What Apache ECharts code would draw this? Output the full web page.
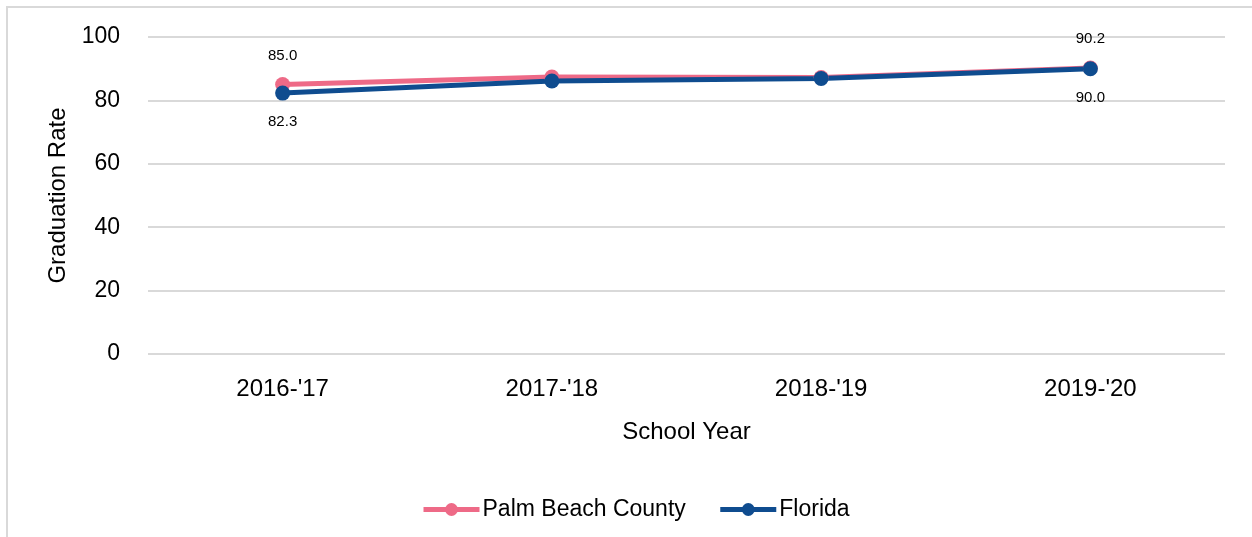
<!DOCTYPE html>
<html>
<head>
<meta charset="utf-8">
<script src="https://cdn.jsdelivr.net/npm/echarts@6/dist/echarts.min.js"></script>
<style>
  html, body { margin: 0; padding: 0; background: #fff; }
  #chart { width: 1252px; height: 537px; }
</style>
</head>
<body>
<div id="chart"></div>
<script>
var years = ["2016-'17", "2017-'18", "2018-'19", "2019-'20"];
var palmBeach = [85.0, 87.4, 87.2, 90.2];
var florida = [82.3, 86.1, 86.9, 90.0];
var yTicks = [0, 20, 40, 60, 80, 100];

var font = 'Liberation Sans, Arial, sans-serif';

// only the first and last points carry a label
function edgeLabel(params) {
	var last = years.length - 1;
	return (params.dataIndex === 0 || params.dataIndex === last) ? params.value.toFixed(1) : '';
}

var chart = echarts.init(document.getElementById('chart'));

chart.setOption({
	animation: false,
	textStyle: { fontFamily: font },
	graphic: [{
		type: 'rect',
		shape: { x: 7, y: 7, width: 1400, height: 700 },
		style: { fill: 'none', stroke: '#d9d9d9', lineWidth: 2 }
	}],
	grid: { left: 148, right: 27, top: 37, bottom: 183 },
	legend: {
		left: 416,
		top: 493,
		itemWidth: 56,
		itemHeight: 16,
		itemGap: 32,
		lineStyle: { width: 5 },
		textStyle: { fontFamily: font, fontSize: 23, color: '#000', padding: [0, 0, 0, -2] },
		data: ['Palm Beach County', 'Florida']
	},
	xAxis: {
		type: 'category',
		data: years,
		name: 'School Year',
		nameLocation: 'middle',
		nameGap: 66,
		nameTextStyle: { fontFamily: font, fontSize: 24, color: '#000' },
		axisLine: { show: false },
		axisTick: { show: false },
		axisLabel: { fontFamily: font, fontSize: 24, color: '#000', margin: 23 }
	},
	yAxis: {
		type: 'value',
		min: yTicks[0],
		max: yTicks[yTicks.length - 1],
		interval: 20,
		name: 'Graduation Rate',
		nameLocation: 'middle',
		nameGap: 78,
		nameTextStyle: { fontFamily: font, fontSize: 24, color: '#000' },
		axisLine: { show: false },
		axisTick: { show: false },
		axisLabel: { fontFamily: font, fontSize: 23, color: '#000', margin: 28 },
		splitLine: { lineStyle: { color: '#d9d9d9', width: 2 } }
	},
	series: [
		{
			name: 'Palm Beach County',
			type: 'line',
			data: palmBeach,
			symbol: 'circle',
			symbolSize: 15,
			color: '#EE6A87',
			lineStyle: { width: 5 },
			label: {
				show: true,
				position: 'top',
				distance: 14,
				formatter: edgeLabel,
				fontFamily: font,
				fontSize: 15,
				color: '#000'
			}
		},
		{
			name: 'Florida',
			type: 'line',
			data: florida,
			symbol: 'circle',
			symbolSize: 15,
			color: '#0F4C8F',
			lineStyle: { width: 5 },
			label: {
				show: true,
				position: 'bottom',
				distance: 14,
				formatter: edgeLabel,
				fontFamily: font,
				fontSize: 15,
				color: '#000'
			}
		}
	]
});
</script>
</body>
</html>
